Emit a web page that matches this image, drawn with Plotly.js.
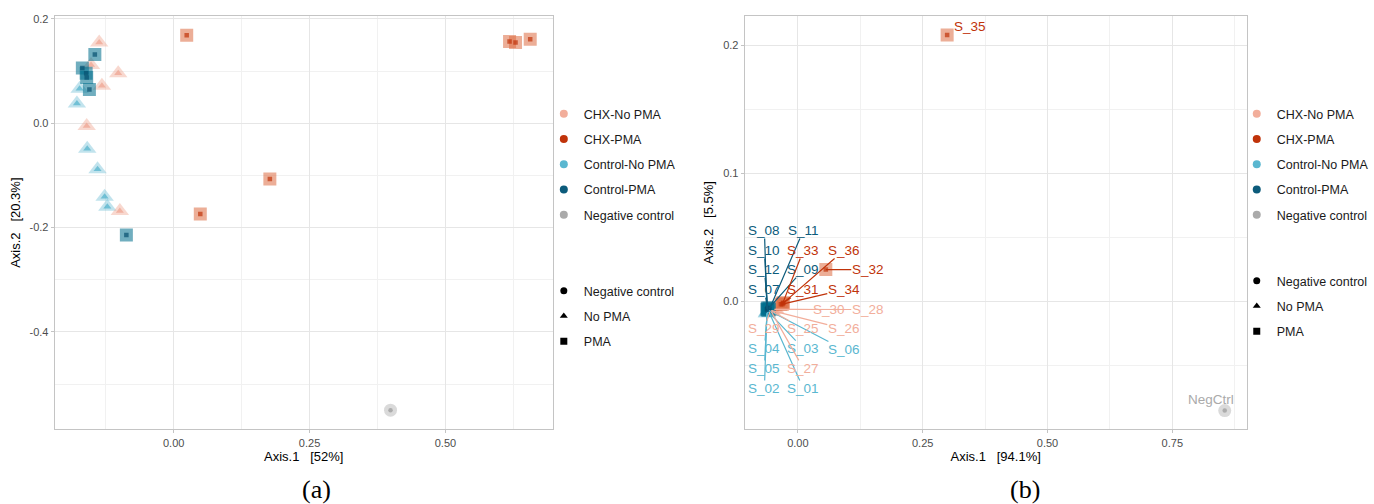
<!DOCTYPE html>
<html><head><meta charset="utf-8">
<script src="https://cdn.plot.ly/plotly-3.0.1.min.js"></script>
<style>html,body{margin:0;padding:0;background:#fff}#chart{width:1374px;height:504px}</style>
</head><body><div id="chart"></div>
<script>
// ---------------- DATA ----------------
const sampleIds = ['S_01','S_02','S_03','S_04','S_05','S_06',
                   'S_07','S_08','S_09','S_10','S_11','S_12',
                   'S_25','S_26','S_27','S_28','S_29','S_30',
                   'S_31','S_32','S_33','S_34','S_35','S_36','NegCtrl'];
const sampleGroup = ['Control-No PMA','Control-No PMA','Control-No PMA','Control-No PMA','Control-No PMA','Control-No PMA',
                     'Control-PMA','Control-PMA','Control-PMA','Control-PMA','Control-PMA','Control-PMA',
                     'CHX-No PMA','CHX-No PMA','CHX-No PMA','CHX-No PMA','CHX-No PMA','CHX-No PMA',
                     'CHX-PMA','CHX-PMA','CHX-PMA','CHX-PMA','CHX-PMA','CHX-PMA','Negative control'];
const sampleTreatment = ['No PMA','No PMA','No PMA','No PMA','No PMA','No PMA',
                         'PMA','PMA','PMA','PMA','PMA','PMA',
                         'No PMA','No PMA','No PMA','No PMA','No PMA','No PMA',
                         'PMA','PMA','PMA','PMA','PMA','PMA','Negative control'];
// Panel (a): ordination coordinates
const panelA_axis1 = [-0.173,-0.178,-0.159,-0.140,-0.127,-0.122,
                      -0.145,-0.168,-0.161,-0.160,-0.155,-0.087,
                      -0.137,-0.152,-0.102,-0.132,-0.160,-0.099,
                       0.024, 0.618, 0.629, 0.656, 0.177, 0.049, 0.399];
const panelA_axis2 = [ 0.066, 0.038,-0.049,-0.088,-0.141,-0.160,
                       0.132, 0.106, 0.096, 0.088, 0.065,-0.214,
                       0.155, 0.112, 0.096, 0.072,-0.005,-0.168,
                       0.169, 0.157, 0.155, 0.161,-0.107,-0.174,-0.550];
// Panel (b): ordination coordinates
const panelB_axis1 = [-0.058,-0.062,-0.059,-0.061,-0.062,-0.058,
                      -0.061,-0.062,-0.058,-0.061,-0.057,-0.060,
                      -0.054,-0.052,-0.053,-0.045,-0.056,-0.047,
                      -0.034, 0.056,-0.030,-0.031, 0.299,-0.029, 0.855];
const panelB_axis2 = [-0.008,-0.009,-0.008,-0.008,-0.009,-0.007,
                      -0.005,-0.006,-0.005,-0.006,-0.006,-0.007,
                      -0.007,-0.007,-0.008,-0.006,-0.008,-0.006,
                      -0.002, 0.025,-0.001,-0.002, 0.208,-0.001,-0.085];
const groupNames = ['CHX-No PMA','CHX-PMA','Control-No PMA','Control-PMA','Negative control'];
const treatmentNames = ['Negative control','No PMA','PMA'];
const axisTitles = {
  ax: 'Axis.1\u00a0\u00a0\u00a0[52%]', ay: 'Axis.2\u00a0\u00a0\u00a0[20.3%]',
  bx: 'Axis.1\u00a0\u00a0\u00a0[94.1%]', by: 'Axis.2\u00a0\u00a0\u00a0[5.5%]'
};
const tickA_x = [0, 0.25, 0.5];       const tickA_xText = ['0.00','0.25','0.50'];
const tickA_y = [0.2, 0, -0.2, -0.4]; const tickA_yText = ['0.2','0.0','-0.2','-0.4'];
const tickB_x = [0, 0.25, 0.5, 0.75]; const tickB_xText = ['0.00','0.25','0.50','0.75'];
const tickB_y = [0.2, 0.1, 0];        const tickB_yText = ['0.2','0.1','0.0'];
const captions = ['(a)','(b)'];

// ---------------- STYLE ----------------
const FONT = 'Liberation Sans, Arial, Helvetica, sans-serif';
const W = 1374, H = 504;
const legendColor = {'CHX-No PMA':'#f2ae9b','CHX-PMA':'#c0330a','Control-No PMA':'#5ab7d0','Control-PMA':'#0c5b7b','Negative control':'#aaaaaa'};
const outerColor  = {'CHX-No PMA':'rgba(238,163,140,0.6)','CHX-PMA':'rgba(221,110,70,0.8)','Control-No PMA':'rgba(107,188,212,0.6)','Control-PMA':'rgba(0,111,141,0.8)','Negative control':'rgba(160,160,160,0.55)'};
const innerColor  = {'CHX-No PMA':'#eea38e','CHX-PMA':'#c0330a','Control-No PMA':'#4fb0cb','Control-PMA':'#07506f','Negative control':'#999999'};
const symbolOf = {'Negative control':'circle','No PMA':'triangle-up','PMA':'square'};
const outerSize = {'circle':13,'triangle-up':16,'square':13};
const innerSize = {'circle':4.5,'triangle-up':7,'square':4.5};
const drawOrder = ['Control-No PMA','CHX-No PMA','CHX-PMA','Control-PMA','Negative control'];

// label placement (panel b, data units of panel b axes)
const labelPlaceB = {
  'S_08':[-0.067,0.0555],'S_11':[0.011,0.0555],
  'S_10':[-0.067,0.0399],'S_33':[0.011,0.0399],'S_36':[0.092,0.0399],
  'S_12':[-0.067,0.0249],'S_09':[0.011,0.0249],'S_32':[0.14,0.0249],
  'S_07':[-0.067,0.0093],'S_31':[0.011,0.0093],'S_34':[0.092,0.0093],
  'S_30':[0.062,-0.0062],'S_28':[0.14,-0.0062],
  'S_29':[-0.067,-0.0212],'S_25':[0.011,-0.0212],'S_26':[0.092,-0.0212],
  'S_04':[-0.067,-0.0366],'S_03':[0.011,-0.0366],'S_06':[0.092,-0.0374],
  'S_05':[-0.067,-0.0521],'S_27':[0.011,-0.0521],
  'S_02':[-0.067,-0.0677],'S_01':[0.011,-0.0677]
};
const labelShiftB = {'S_35':[23,8],'NegCtrl':[-14,11]};

// ---------------- TRACES ----------------
const traces = [];
function addPanel(xs, ys, xa, ya) {
  drawOrder.forEach(g => {
    const idx = sampleGroup.map((s,i)=>s===g?i:-1).filter(i=>i>=0);
    const sym = idx.map(i=>symbolOf[sampleTreatment[i]]);
    const common = {type:'scatter', mode:'markers', xaxis:xa, yaxis:ya, showlegend:false, hoverinfo:'skip',
      x: idx.map(i=>xs[i]), y: idx.map(i=>ys[i])};
    traces.push(Object.assign({}, common, {marker:{symbol:sym, size:sym.map(s=>outerSize[s]), color:outerColor[g], line:{width:0}}}));
    traces.push(Object.assign({}, common, {marker:{symbol:sym, size:sym.map(s=>innerSize[s]), color:innerColor[g], line:{width:0}}}));
  });
}
addPanel(panelA_axis1, panelA_axis2, 'x', 'y');
addPanel(panelB_axis1, panelB_axis2, 'x2', 'y2');

// legend entries
function legendEntries(legendId, xa, ya) {
  groupNames.forEach((g,k) => traces.push({type:'scatter', mode:'markers', x:[null], y:[null], xaxis:xa, yaxis:ya,
    name:g, legend:legendId[0], legendgroup:legendId[0]+'g'+k, marker:{symbol:'circle', size:8, color:legendColor[g]}}));
  treatmentNames.forEach((t,k) => traces.push({type:'scatter', mode:'markers', x:[null], y:[null], xaxis:xa, yaxis:ya,
    name:t, legend:legendId[1], legendgroup:legendId[1]+'t'+k, marker:{symbol:symbolOf[t], size:7, color:'#000'}}));
}
legendEntries(['legend','legend2'], 'x', 'y');
legendEntries(['legend3','legend4'], 'x2', 'y2');

// ---------------- ANNOTATIONS ----------------
const annotations = [];
sampleIds.forEach((id,i) => {
  const g = sampleGroup[i];
  if (labelPlaceB[id]) {
    annotations.push({xref:'x2', yref:'y2', x:panelB_axis1[i], y:panelB_axis2[i], text:id,
      showarrow:true, axref:'x2', ayref:'y2', ax:labelPlaceB[id][0], ay:labelPlaceB[id][1],
      arrowhead:0, arrowwidth:1.2, arrowcolor:legendColor[g], standoff:0, startstandoff:0,
      font:{family:FONT, size:13.5, color:legendColor[g]}, borderpad:0});
  } else if (labelShiftB[id]) {
    annotations.push({xref:'x2', yref:'y2', x:panelB_axis1[i], y:panelB_axis2[i], text:id, showarrow:false,
      xshift:labelShiftB[id][0], yshift:labelShiftB[id][1], font:{family:FONT, size:13.5, color:legendColor[g]}});
  }
});
annotations.push({xref:'paper', yref:'paper', x:318/W, y:1-489/H, xanchor:'center', yanchor:'middle', text:captions[0], showarrow:false,
  font:{family:'Liberation Serif, Times New Roman, serif', size:26, color:'#000'}});
annotations.push({xref:'paper', yref:'paper', x:1031/W, y:1-489/H, xanchor:'center', yanchor:'middle', text:captions[1], showarrow:false,
  font:{family:'Liberation Serif, Times New Roman, serif', size:26, color:'#000'}});

// ---------------- LAYOUT ----------------
function axis(domain, range, tv, tt, minorVals, title, anchor, standoff) {
  return {domain, range, tickmode:'array', tickvals:tv, ticktext:tt, anchor,
    showgrid:true, gridcolor:'#e6e6e6', gridwidth:1,
    minor:{tickmode:'array', tickvals:minorVals, showgrid:true, gridcolor:'#f1f1f1', gridwidth:1},
    zeroline:false, showline:true, mirror:true, linecolor:'#c4c4c4', linewidth:1,
    ticks:'outside', ticklen:3, tickcolor:'#c4c4c4', tickwidth:1,
    tickfont:{family:FONT, size:11, color:'#4d4d4d'},
    title:{text:title, font:{family:FONT, size:13, color:'#000'}, standoff:standoff}, fixedrange:true};
}
const yDom = [1-429.3/H, 1-16/H];
const legendBase = {xanchor:'left', yanchor:'top', font:{family:FONT, size:12.5, color:'#1a1a1a'},
  bgcolor:'rgba(0,0,0,0)', tracegroupgap:6, itemclick:false, itemdoubleclick:false};
const layout = {
  width:W, height:H, margin:{l:0, r:0, t:0, b:0}, paper_bgcolor:'#fff', plot_bgcolor:'#fff',
  font:{family:FONT},
  xaxis: axis([55/W, 556/W], [-0.2189, 0.6975], tickA_x, tickA_xText, [-0.125,0.125,0.375,0.625], axisTitles.ax, 'y', 4),
  yaxis: axis(yDom, [-0.5866, 0.2057], tickA_y, tickA_yText, [0.1,-0.1,-0.3,-0.5], axisTitles.ay, 'x', 5),
  xaxis2: axis([749/W, 1254/W], [-0.1066, 0.899], tickB_x, tickB_xText, [0.125,0.375,0.625,0.875], axisTitles.bx, 'y2', 4),
  yaxis2: axis(yDom, [-0.0996, 0.2228], tickB_y, tickB_yText, [0.15,0.05,-0.05], axisTitles.by, 'x2', 6),
  legend:  Object.assign({}, legendBase, {x:547/W, y:1-99/H}),
  legend2: Object.assign({}, legendBase, {x:547/W, y:1-276/H}),
  legend3: Object.assign({}, legendBase, {x:1244/W, y:1-99/H}),
  legend4: Object.assign({}, legendBase, {x:1244/W, y:1-266/H}),
  annotations
};
Plotly.newPlot('chart', traces, layout, {staticPlot:true, displayModeBar:false});
</script></body></html>
